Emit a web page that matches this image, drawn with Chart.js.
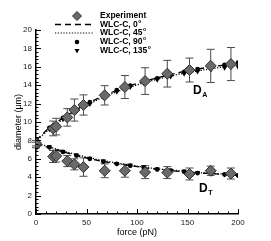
<!DOCTYPE html>
<html>
<head>
<meta charset="utf-8">
<script src="https://cdn.jsdelivr.net/npm/chart.js@4"></script>
<style>
  html, body { margin: 0; padding: 0; background: #fff; }
  #wrap { width: 271px; height: 241px; }
</style>
</head>
<body>
<div id="wrap"><canvas id="chart" width="271" height="241"></canvas></div>
<script>
// model curves (WLC-C), same force points for every angle
const modelForce = [0, 13.3, 26.7, 40, 53.3, 66.7, 80, 93.3, 106.7, 120, 133.3, 146.7, 160, 173.3, 186.7, 200];
const axial0   = [8.0, 9.4, 10.45, 11.35, 12.15, 12.85, 13.45, 13.95, 14.4, 14.8, 15.15, 15.5, 15.75, 16.0, 16.2, 16.45];
const axial45  = [7.9, 9.25, 10.3, 11.2, 12.0, 12.7, 13.3, 13.8, 14.25, 14.65, 15.0, 15.3, 15.55, 15.8, 16.0, 16.2];
const axial90  = [7.95, 9.35, 10.45, 11.3, 12.15, 12.85, 13.45, 13.95, 14.4, 14.75, 15.1, 15.45, 15.75, 16.0, 16.2, 16.45];
const axial135 = [7.8, 9.2, 10.3, 11.15, 11.95, 12.65, 13.3, 13.8, 14.25, 14.6, 14.95, 15.25, 15.5, 15.7, 15.9, 16.0];
const trans0   = [7.6, 7.2, 6.75, 6.35, 6.0, 5.7, 5.45, 5.25, 5.05, 4.85, 4.7, 4.6, 4.45, 4.4, 4.3, 4.2];
const trans45  = [7.7, 7.3, 6.85, 6.45, 6.1, 5.8, 5.55, 5.3, 5.1, 4.9, 4.8, 4.65, 4.5, 4.4, 4.35, 4.25];
const trans90  = [7.8, 7.25, 6.75, 6.35, 6.0, 5.7, 5.45, 5.25, 5.05, 4.85, 4.7, 4.6, 4.45, 4.4, 4.3, 4.2];
const trans135 = [7.7, 7.3, 6.8, 6.4, 6.05, 5.75, 5.5, 5.3, 5.1, 4.9, 4.75, 4.65, 4.5, 4.4, 4.3, 4.2];

// experiment
const expForce    = [0, 17, 20, 31, 38, 47, 68, 88, 108, 130, 152, 173, 193];
const expAxial    = [7.7, 9.3, 9.5, 10.5, 11.3, 11.85, 12.9, 13.8, 14.45, 15.25, 15.65, 16.1, 16.3];
const expAxialErr = [0.3, 0.8, 0.9, 0.95, 1.2, 1.1, 1.05, 1.25, 1.45, 1.45, 1.3, 1.8, 1.8];
const expTrans    = [7.5, 6.25, 6.3, 5.75, 5.4, 5.1, 4.7, 4.7, 4.55, 4.5, 4.35, 4.7, 4.4];
const expTransErr = [0.3, 0.65, 0.65, 0.6, 0.6, 1.0, 0.75, 0.7, 0.7, 0.65, 0.65, 0.5, 0.6];

const xTicks = [0, 50, 100, 150, 200];
const yTicks = [0, 2, 4, 6, 8, 10, 12, 14, 16, 18, 20];

const pts = (xs, ys) => xs.map((x, i) => ({ x: x, y: ys[i] }));
const FONT = 'Liberation Sans, Arial, sans-serif';

function lineSet(ys, dash, width) {
    return {
        data: pts(modelForce, ys), showLine: true, pointRadius: 0,
        borderColor: '#000', borderWidth: width, borderDash: dash, fill: false
    };
}
function markSet(ys, style, r, rot) {
    return {
        data: pts(modelForce, ys), showLine: false, pointStyle: style,
        pointRadius: r, rotation: rot, backgroundColor: '#000', borderColor: '#000', borderWidth: 0
    };
}
function expSet(ys, errs) {
    return {
        data: pts(expForce, ys), showLine: false, pointStyle: 'rectRot', pointRadius: 5.5,
        backgroundColor: '#6a6a6a', borderColor: '#2e2e2e', borderWidth: 1, errors: errs
    };
}

// vertical error bars with caps
const errorBars = {
    id: 'errorBars',
    beforeDatasetsDraw(chart) {
        const { ctx, scales: { x, y } } = chart;
        ctx.save();
        ctx.strokeStyle = '#4a4a4a';
        ctx.lineWidth = 1;
        chart.data.datasets.forEach(ds => {
            if (!ds.errors) return;
            ds.data.forEach((p, i) => {
                const px = x.getPixelForValue(p.x);
                const top = y.getPixelForValue(p.y + ds.errors[i]);
                const bot = y.getPixelForValue(p.y - ds.errors[i]);
                ctx.beginPath();
                ctx.moveTo(px, top); ctx.lineTo(px, bot);
                ctx.moveTo(px - 4, top); ctx.lineTo(px + 4, top);
                ctx.moveTo(px - 4, bot); ctx.lineTo(px + 4, bot);
                ctx.stroke();
            });
        });
        ctx.restore();
    }
};

// inward major/minor ticks
const innerTicks = {
    id: 'innerTicks',
    afterDraw(chart) {
        const { ctx, scales: { x, y } } = chart;
        ctx.save();
        ctx.strokeStyle = '#000';
        ctx.lineWidth = 1;
        ctx.beginPath();
        for (let v = 0; v <= 200; v += 10) {
            const px = Math.round(x.getPixelForValue(v)) + 0.5;
            const len = v % 50 === 0 ? 5 : 2.5;
            ctx.moveTo(px, y.bottom); ctx.lineTo(px, y.bottom - len);
        }
        for (let k = 0; k <= 50; k++) {
            const v = k * 0.4;
            const py = Math.round(y.getPixelForValue(v)) + 0.5;
            const len = k % 5 === 0 ? 5 : 2.5;
            ctx.moveTo(x.left, py); ctx.lineTo(x.left + len, py);
        }
        ctx.stroke();
        ctx.restore();
    }
};

function supText(ctx, base, sup, x, y, size, bold) {
    ctx.font = (bold ? 'bold ' : '') + size + 'px ' + FONT;
    ctx.fillText(base, x, y);
    const w = ctx.measureText(base).width;
    ctx.font = (bold ? 'bold ' : '') + Math.round(size * 0.62) + 'px ' + FONT;
    ctx.fillText(sup, x + w + 0.5, y + (sup === 'o' ? -size * 0.38 : size * 0.3));
}

// legend and curve labels
const annotations = {
    id: 'annotations',
    afterDraw(chart) {
        const ctx = chart.ctx;
        ctx.save();
        ctx.fillStyle = '#000';
        ctx.strokeStyle = '#000';
        ctx.textBaseline = 'middle';
        const rows = [16, 24.5, 33, 42, 51];
        // experiment diamond
        ctx.fillStyle = '#6a6a6a'; ctx.strokeStyle = '#2e2e2e';
        ctx.beginPath();
        ctx.moveTo(77, rows[0] - 4.5); ctx.lineTo(81.5, rows[0]); ctx.lineTo(77, rows[0] + 4.5); ctx.lineTo(72.5, rows[0]);
        ctx.closePath(); ctx.fill(); ctx.stroke();
        ctx.fillStyle = '#000'; ctx.strokeStyle = '#000';
        ctx.lineWidth = 1.3;
        ctx.setLineDash([6, 4]);
        ctx.beginPath(); ctx.moveTo(55, rows[1]); ctx.lineTo(94, rows[1]); ctx.stroke();
        ctx.lineWidth = 1.2;
        ctx.setLineDash([1.2, 1.6]);
        ctx.beginPath(); ctx.moveTo(55, rows[2]); ctx.lineTo(94, rows[2]); ctx.stroke();
        ctx.setLineDash([]);
        ctx.beginPath(); ctx.arc(77, rows[3], 2.3, 0, Math.PI * 2); ctx.fill();
        ctx.beginPath();
        ctx.moveTo(74.5, rows[4] - 2); ctx.lineTo(79.5, rows[4] - 2); ctx.lineTo(77, rows[4] + 2.5);
        ctx.closePath(); ctx.fill();

        ctx.textAlign = 'left';
        ctx.font = 'bold 8.5px ' + FONT;
        ctx.fillText('Experiment', 100, rows[0]);
        supText(ctx, 'WLC-C, 0', 'o', 100, rows[1], 8.5, true);
        supText(ctx, 'WLC-C, 45', 'o', 100, rows[2], 8.5, true);
        supText(ctx, 'WLC-C, 90', 'o', 100, rows[3], 8.5, true);
        supText(ctx, 'WLC-C, 135', 'o', 100, rows[4], 8.5, true);

        supText(ctx, 'D', 'A', 193, 91, 12, true);
        supText(ctx, 'D', 'T', 199, 189, 12, true);
        ctx.restore();
    }
};

new Chart(document.getElementById('chart'), {
    type: 'scatter',
    data: {
        datasets: [
            expSet(expAxial, expAxialErr),
            expSet(expTrans, expTransErr),
            markSet(axial90, 'circle', 2.4, 0),
            markSet(trans90, 'circle', 2.4, 0),
            markSet(axial135, 'triangle', 3, 180),
            markSet(trans135, 'triangle', 3, 180),
            lineSet(axial0, [6, 4], 1.3),
            lineSet(trans0, [6, 4], 1.3),
            lineSet(axial45, [1.2, 1.6], 1.3),
            lineSet(trans45, [1.2, 1.6], 1.3)
        ]
    },
    options: {
        responsive: false,
        animation: false,
        layout: { padding: { top: 30, right: 33, left: 13, bottom: 3 } },
        plugins: { legend: { display: false }, tooltip: { enabled: false } },
        scales: {
            x: {
                type: 'linear', min: 0, max: 200,
                afterBuildTicks: s => { s.ticks = xTicks.map(v => ({ value: v })); },
                afterFit: s => { s.height = 24; },
                grid: { display: false, drawTicks: false },
                border: { display: true, color: '#000', width: 1.5 },
                ticks: { color: '#222', font: { family: FONT, size: 8 }, padding: 4, maxRotation: 0 },
                title: { display: true, text: 'force (pN)', color: '#000', font: { family: FONT, size: 9 }, padding: { top: 0, bottom: 0 } }
            },
            y: {
                type: 'linear', min: 0, max: 20,
                afterBuildTicks: s => { s.ticks = yTicks.map(v => ({ value: v })); },
                afterFit: s => { s.width = 23; },
                grid: { display: false, drawTicks: false },
                border: { display: true, color: '#000', width: 1.5 },
                ticks: { color: '#222', font: { family: FONT, size: 8 }, padding: 4 },
                title: { display: true, text: 'diameter (\u03bcm)', color: '#000', font: { family: FONT, size: 9 }, padding: { top: 0, bottom: 0 } }
            }
        }
    },
    plugins: [errorBars, innerTicks, annotations]
});
</script>
</body>
</html>
